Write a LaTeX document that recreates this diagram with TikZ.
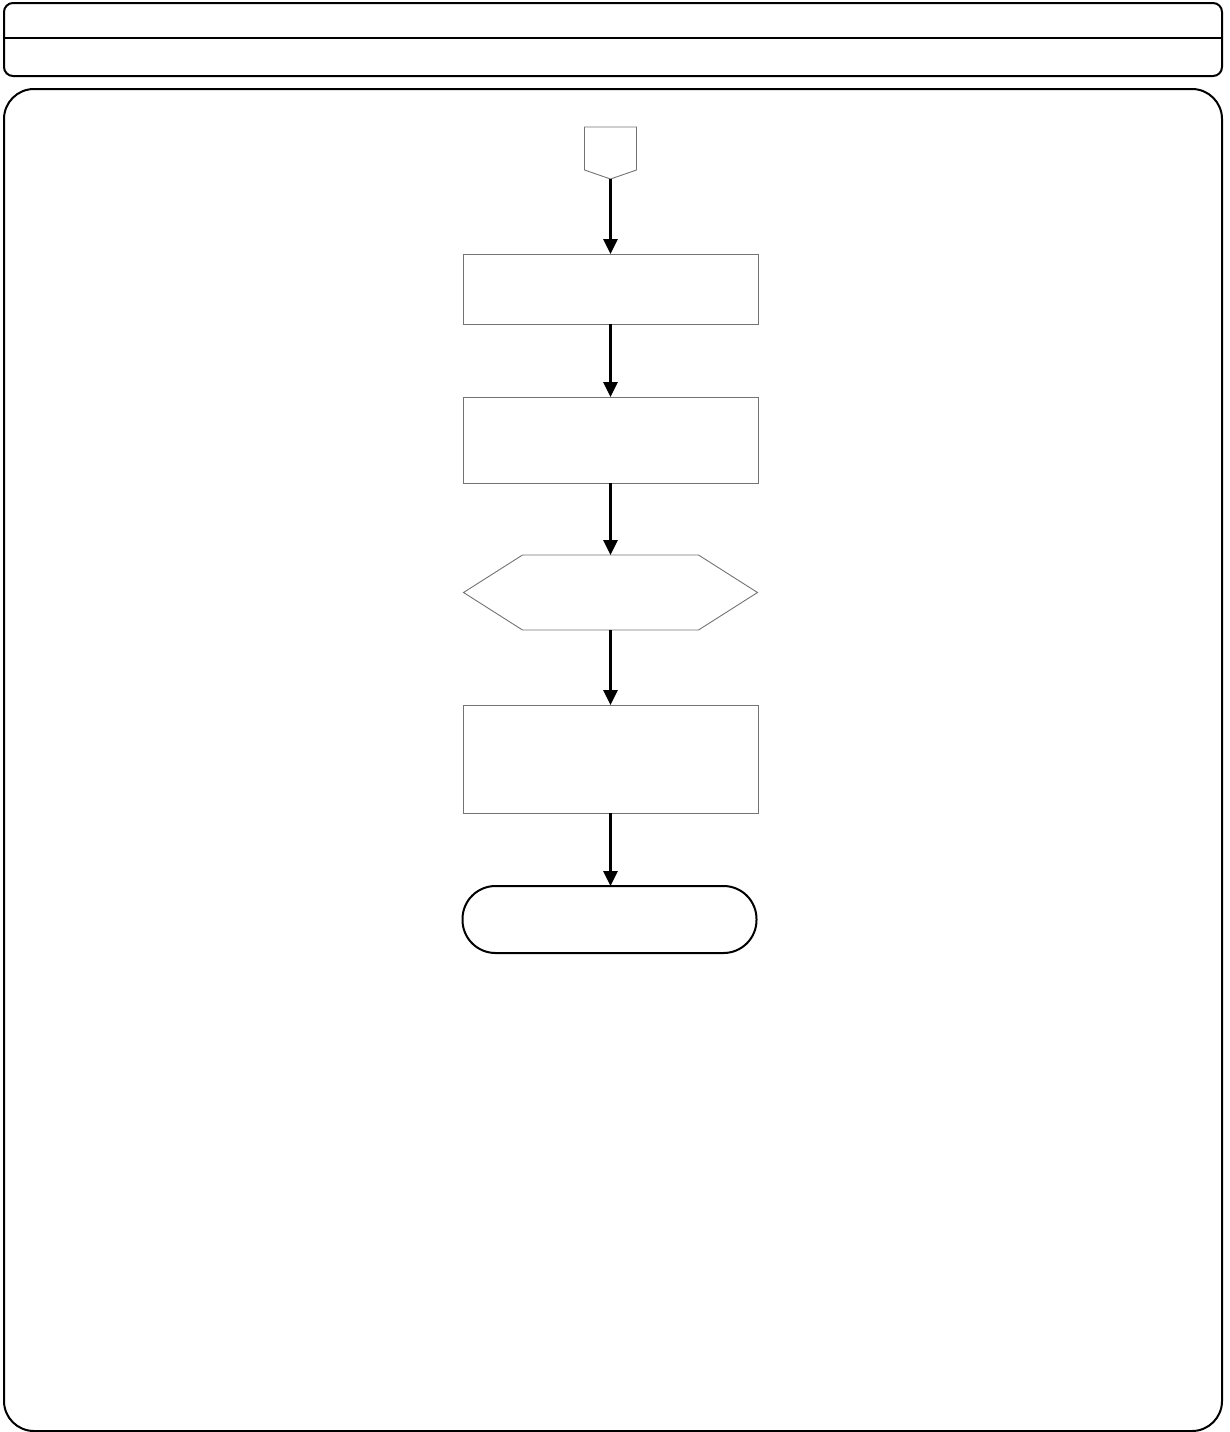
\documentclass[tikz,border=0pt]{standalone}
\usetikzlibrary{arrows.meta,calc}
\begin{document}
\begin{tikzpicture}[x=1pt,y=-1pt,
  frame/.style={draw=black,line width=2pt},
  procbox/.style={draw=black!55,line width=0.9pt,rectangle,inner sep=0pt,outer sep=0pt,minimum width=295pt},
  ghost/.style={draw=none,rectangle,inner sep=0pt,outer sep=0pt},
  thinline/.style={draw=black!55,line width=0.9pt},
  flow/.style={line width=2.8pt,-{Triangle[width=14pt,length=15pt]}},
  term/.style={draw=black,line width=2pt,rectangle,rounded corners=33pt,inner sep=0pt,outer sep=0pt,minimum width=294pt,minimum height=67pt}]
\useasboundingbox (0,0) rectangle (1229,1432);
% header
\draw[frame,rounded corners=9pt] (4,3) rectangle (1222,76);
\coordinate (hl) at (4,38);
\coordinate (hr) at (1222,38);
\draw[line width=2.4pt] (hl) -- (hr);
% main frame
\draw[frame,rounded corners=30pt] (4,89) rectangle (1222,1431);
% start connector
\node[ghost,minimum width=52pt,minimum height=52pt] (start) at (610.5,153) {};
\draw[thinline] ($(start.south west)+(0,-9)$) -- (start.north west) -- (start.north east) -- ($(start.south east)+(0,-9)$) -- (start.south) -- cycle;
% boxes
\node[procbox,minimum height=70pt] (b1) at (610.5,289) {};
\node[procbox,minimum height=86pt] (b2) at (610.5,440) {};
\node[ghost,minimum width=294pt,minimum height=75pt] (hex) at (610.5,592.5) {};
\draw[thinline] (hex.west) -- ($(hex.north west)+(59,0)$) -- ($(hex.north east)+(-59,0)$) -- (hex.east) -- ($(hex.south east)+(-59,0)$) -- ($(hex.south west)+(59,0)$) -- cycle;
\node[procbox,minimum height=108pt] (b3) at (610.5,759) {};
\node[term] (end) at (609.5,919.5) {};
% connectors
\draw[flow] (start.south) -- (start.south |- b1.north);
\draw[flow] (b1.south) -- (b1.south |- b2.north);
\draw[flow] (b2.south) -- (b2.south |- hex.north);
\draw[flow] (hex.south) -- (hex.south |- b3.north);
\draw[flow] (b3.south) -- (b3.south |- end.north);
\end{tikzpicture}
\end{document}
